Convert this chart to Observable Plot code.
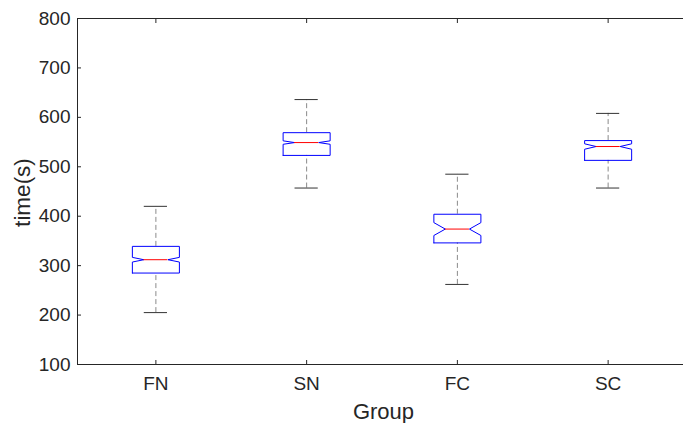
<!DOCTYPE html>
<html>
<head>
<meta charset="utf-8">
<script src="https://cdn.jsdelivr.net/npm/d3@7"></script>
<script src="https://cdn.jsdelivr.net/npm/@observablehq/plot@0.6"></script>
<style>
  html, body { margin: 0; padding: 0; background: #fff; overflow: hidden; }
</style>
</head>
<body>
<div id="chart"></div>
<script>
// Data (seconds)
const groups = ["FN", "SN", "FC", "SC"];
const lowerWhisker = [205, 457, 262, 457];
const q1 = [285, 523, 346, 513];
const median = [312, 549, 374, 541];
const q3 = [339, 569, 404, 553];
const upperWhisker = [420, 636, 485, 608];
const notch = [4.7, 3.5, 13, 5.5]; // notch half-extent around the median
const yTicks = [100, 200, 300, 400, 500, 600, 700, 800];

// Style constants (box geometry in x units)
const boxHalf = 0.156;
const notchHalf = 0.08;
const capHalf = 0.077;
const ink = "#262626";

const table = groups.map((g, i) => ({
  g, pos: i + 1,
  lo: lowerWhisker[i], q1: q1[i], med: median[i], q3: q3[i], hi: upperWhisker[i], n: notch[i]
}));

const outline = table.flatMap(d => [
  [d.pos - boxHalf, d.q1],
  [d.pos - boxHalf, d.med - d.n],
  [d.pos - notchHalf, d.med],
  [d.pos - boxHalf, d.med + d.n],
  [d.pos - boxHalf, d.q3],
  [d.pos + boxHalf, d.q3],
  [d.pos + boxHalf, d.med + d.n],
  [d.pos + notchHalf, d.med],
  [d.pos + boxHalf, d.med - d.n],
  [d.pos + boxHalf, d.q1],
  [d.pos - boxHalf, d.q1]
].map(([x, y]) => ({g: d.g, x, y})));

const chart = Plot.plot({
  width: 683,
  height: 423,
  marginTop: 18,
  marginBottom: 59,
  marginLeft: 77,
  marginRight: 0,
  style: {fontFamily: "'Liberation Sans', Arial, Helvetica, sans-serif", fontSize: "19px", color: ink, background: "#fff"},
  x: {type: "linear", domain: [0.48, 4.5]},
  y: {domain: [100, 800]},
  marks: [
    Plot.frame({stroke: ink}),
    Plot.axisY({ticks: yTicks, tickSize: -4, tickPadding: 11, label: null, stroke: ink, fill: ink}),
    Plot.axisX({ticks: [1, 2, 3, 4], tickFormat: i => groups[i - 1], tickSize: -4, tickPadding: 16, label: null, stroke: ink, fill: ink}),
    Plot.axisX({anchor: "top", ticks: [1, 2, 3, 4], tickFormat: () => "", tickSize: -4, label: null, stroke: ink}),
    Plot.ruleX(table, {x: "pos", y1: "q3", y2: "hi", stroke: "#8a8a8a", strokeDasharray: "5,3"}),
    Plot.ruleX(table, {x: "pos", y1: "lo", y2: "q1", stroke: "#8a8a8a", strokeDasharray: "5,3"}),
    Plot.ruleY(table, {y: "hi", x1: d => d.pos - capHalf, x2: d => d.pos + capHalf, stroke: "#333"}),
    Plot.ruleY(table, {y: "lo", x1: d => d.pos - capHalf, x2: d => d.pos + capHalf, stroke: "#333"}),
    Plot.line(outline, {x: "x", y: "y", z: "g", stroke: "#0000ff", strokeWidth: 1}),
    Plot.ruleY(table, {y: "med", x1: d => d.pos - notchHalf, x2: d => d.pos + notchHalf, stroke: "#ff0000"}),
    Plot.text(["time(s)"], {frameAnchor: "left", textAnchor: "middle", lineAnchor: "middle", rotate: -90, dx: -55, dy: 1, fontSize: 22.5, fill: ink}),
    Plot.text(["Group"], {frameAnchor: "bottom", textAnchor: "middle", lineAnchor: "bottom", dy: 54, dx: 3, fontSize: 22, fill: ink})
  ]
});
document.getElementById("chart").appendChild(chart);
</script>
</body>
</html>
